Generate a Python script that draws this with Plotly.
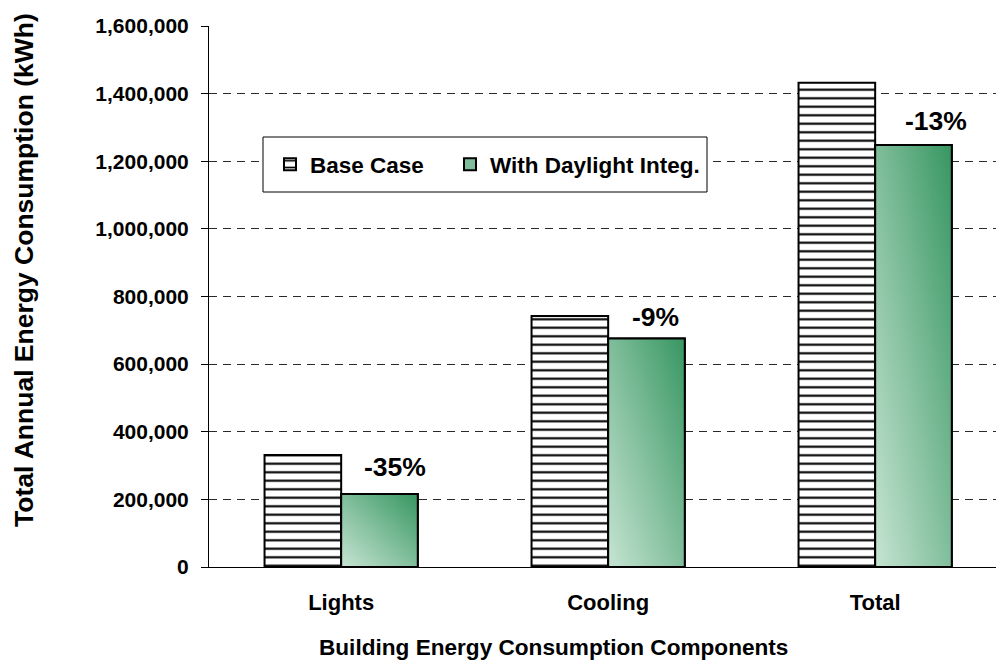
import numpy as np
import plotly.graph_objects as go

# ---- data -------------------------------------------------------------
categories = ["Lights", "Cooling", "Total"]
base_case = [331000, 742000, 1432000]          # kWh / year
daylight_integ = [216000, 676000, 1248000]     # kWh / year
savings_labels = ["-35%", "-9%", "-13%"]
y_ticks = [0, 200000, 400000, 600000, 800000, 1000000, 1200000, 1400000, 1600000]

# ---- style ------------------------------------------------------------
FONT = "Liberation Sans, Arial, Helvetica, sans-serif"
W, H = 996, 662
ML, MR, MT, MB = 209, 0, 26, 95
PLOT_W, PLOT_H = W - ML - MR, H - MT - MB
BAR_W = 0.287
X_RANGE = [-0.495, -0.495 + PLOT_W / 267.0]
Y_RANGE = [0, 1600000]
GREEN_SCALE = [[0.0, "#c6e4d2"], [0.5, "#80be9b"], [1.0, "#379662"]]
LABEL_DX = [16, 9, 23]
LABEL_DY = [27, 21, 24]


def px_x(p):
    """pixel column -> paper x"""
    return (p - ML) / PLOT_W


def px_y(p):
    """pixel row -> paper y"""
    return (H - MB - p) / PLOT_H


x_pos = list(range(len(categories)))

fig = go.Figure()

fig.add_trace(go.Bar(
    name="Base Case", x=x_pos, y=base_case, width=BAR_W, offset=-BAR_W,
    marker=dict(
        color="white",
        line=dict(color="black", width=2),
        pattern=dict(shape="-", size=8.5, solidity=0.25,
                     fgcolor="black", bgcolor="white", fgopacity=1),
    ),
    legend="legend",
    hovertemplate="%{y:,}<extra>Base Case</extra>",
))

fig.add_trace(go.Bar(
    name="With Daylight Integ.", x=x_pos, y=daylight_integ, width=BAR_W, offset=0,
    marker=dict(color="#80be9b", line=dict(color="black", width=2)),
    legend="legend2",
    hovertemplate="%{y:,}<extra>With Daylight Integ.</extra>",
))

# diagonal green gradient inside each daylight bar (overlaid axis pair)
nx, ny = 16, 48
u = (np.arange(nx) + 0.5) / nx
w = (np.arange(ny) + 0.5) / ny
shade = (u[None, :] + w[:, None]) / 2.0
for xi, v in zip(x_pos, daylight_integ):
    fig.add_trace(go.Heatmap(
        x=np.linspace(xi, xi + BAR_W, nx + 1),
        y=np.linspace(0, v, ny + 1),
        z=shade, zmin=0, zmax=1, zsmooth="best",
        colorscale=GREEN_SCALE, showscale=False, hoverinfo="skip",
        xaxis="x2", yaxis="y2",
    ))

fig.add_trace(go.Bar(
    x=x_pos, y=daylight_integ, width=BAR_W, offset=0,
    marker=dict(color="rgba(0,0,0,0)", line=dict(color="black", width=2)),
    showlegend=False, hoverinfo="skip", xaxis="x2", yaxis="y2",
))

# percentage change labels
for i, (xi, v, txt) in enumerate(zip(x_pos, daylight_integ, savings_labels)):
    fig.add_annotation(
        x=xi + BAR_W / 2, y=v, xref="x", yref="y", text=txt, showarrow=False,
        xanchor="center", yanchor="middle", xshift=LABEL_DX[i], yshift=LABEL_DY[i],
        font=dict(family=FONT, size=26.5, color="black", weight="bold"),
    )

# axis titles
fig.add_annotation(
    x=px_x(553), y=px_y(647), xref="paper", yref="paper",
    text="Building Energy Consumption Components", showarrow=False,
    xanchor="center", yanchor="middle",
    font=dict(family=FONT, size=22.6, color="black", weight="bold"),
)
fig.add_annotation(
    x=px_x(24), y=px_y(270), xref="paper", yref="paper",
    text="Total Annual Energy Consumption (kWh)", showarrow=False, textangle=-90,
    xanchor="center", yanchor="middle",
    font=dict(family=FONT, size=26.5, color="black", weight="bold"),
)

# legend frame
fig.add_shape(
    type="rect", xref="paper", yref="paper",
    x0=px_x(263), x1=px_x(707), y0=px_y(192), y1=px_y(137),
    fillcolor="white", line=dict(color="black", width=1), layer="above",
)

LEGEND_FONT = dict(family=FONT, size=22.5, color="black", weight="bold")
fig.update_layout(
    width=W, height=H, autosize=False,
    margin=dict(l=ML, r=MR, t=MT, b=MB, pad=0),
    paper_bgcolor="white", plot_bgcolor="white",
    barmode="group",
    showlegend=True,
    legend=dict(
        orientation="h", x=px_x(270), y=px_y(164.5), xanchor="left", yanchor="middle",
        bgcolor="rgba(0,0,0,0)", borderwidth=0, font=LEGEND_FONT,
    ),
    legend2=dict(
        orientation="h", x=px_x(450), y=px_y(164.5), xanchor="left", yanchor="middle",
        bgcolor="rgba(0,0,0,0)", borderwidth=0, font=LEGEND_FONT,
    ),
    xaxis=dict(
        range=X_RANGE, tickmode="array", tickvals=x_pos, ticktext=categories,
        showline=True, linecolor="black", linewidth=1, ticks="",
        showgrid=False, zeroline=False, ticklabelstandoff=16,
        tickfont=dict(family=FONT, size=22, color="black", weight="bold"),
    ),
    yaxis=dict(
        range=Y_RANGE, tickmode="array", tickvals=y_ticks, tickformat=",d",
        showline=True, linecolor="black", linewidth=1,
        ticks="outside", ticklen=7, tickcolor="black", tickwidth=1,
        showgrid=True, gridcolor="#2a2a2a", gridwidth=1, griddash="8px,6px",
        zeroline=False, ticklabelstandoff=8,
        tickfont=dict(family=FONT, size=21, color="black", weight="bold"),
    ),
    xaxis2=dict(range=X_RANGE, overlaying="x", visible=False, showgrid=False),
    yaxis2=dict(range=Y_RANGE, overlaying="y", visible=False, showgrid=False),
)

fig.write_html("out.html")
